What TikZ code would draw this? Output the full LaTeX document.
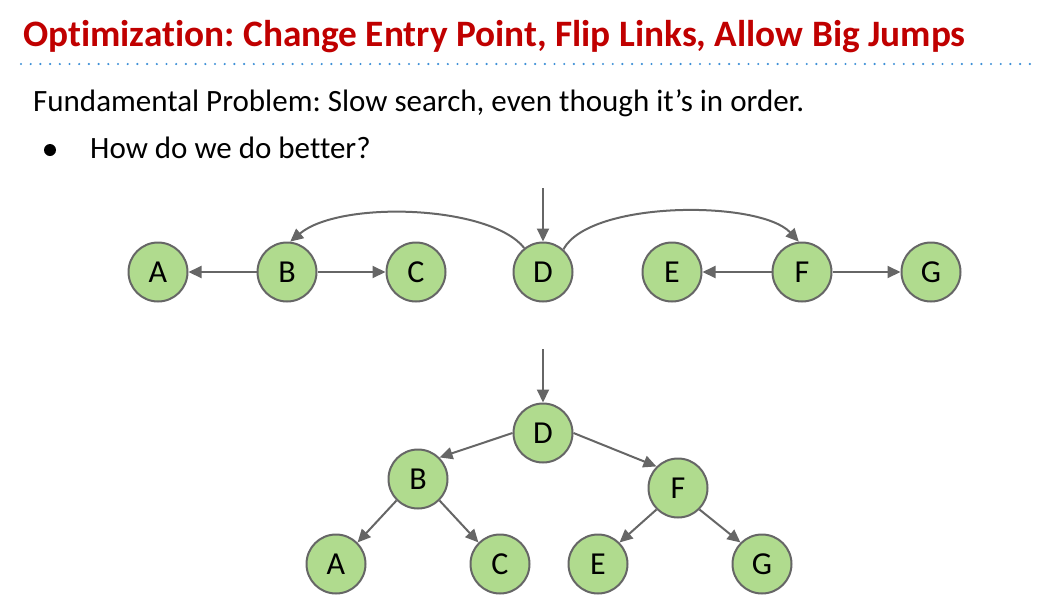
\documentclass[tikz,border=0pt]{standalone}
\usepackage{fontspec}
\setmainfont{Carlito}[Ligatures=NoCommon]
\usetikzlibrary{arrows.meta}
\frenchspacing
\definecolor{titlered}{HTML}{C00000}
\definecolor{dotblue}{HTML}{3D8FD6}
\definecolor{nodegreen}{HTML}{B0DB8E}
\definecolor{edgegray}{HTML}{666666}
\tikzset{
  vnode/.style={circle, draw=edgegray, fill=nodegreen, line width=2pt, minimum size=59pt, inner sep=0pt, font=\fontsize{32}{34}\selectfont},
  link/.style={draw=edgegray, line width=2pt, -{Triangle[length=13pt,width=12pt]}},
}
\begin{document}
\begin{tikzpicture}[x=1pt,y=-1pt]
\useasboundingbox (0,0) rectangle (1042,614);
% title
\node[anchor=base west, inner sep=0pt, text=titlered, font=\fontsize{37.3}{38}\selectfont\bfseries] (title) at (23,46) {Optimization: Change Entry Point, Flip Links, Allow Big Jumps};
\draw[dotblue, line width=2.4pt, line cap=round, dash pattern=on 0pt off 9.7pt] (21,64) -- (1037,64);
\node[anchor=base west, inner sep=0pt, font=\fontsize{31}{33}\selectfont] (prob) at (33,111) {Fundamental Problem: Slow search, even though it’s in order.};
\node[circle, fill=black, inner sep=0pt, minimum size=12pt] (bul) at (50,150) {};
\node[anchor=base west, inner sep=0pt, font=\fontsize{31}{33}\selectfont] (q) at (90,158) {How do we do better?};
% top row
\node[vnode] (A1) at (158,272) {A};
\node[vnode] (B1) at (287,272) {B};
\node[vnode] (C1) at (416,272) {C};
\node[vnode] (D1) at (543,272) {D};
\node[vnode] (E1) at (672,272) {E};
\node[vnode] (F1) at (802,272) {F};
\node[vnode] (G1) at (931,272) {G};
\coordinate (in1) at (543,188);
\draw[link] (in1) -- (D1.north);
\draw[link] (B1.west) -- (A1.east);
\draw[link] (B1.east) -- (C1.west);
\draw[link] (F1.west) -- (E1.east);
\draw[link] (F1.east) -- (G1.west);
\draw[link] (D1.128) .. controls (490,205) and (340,200) .. (B1.84);
\draw[link] (D1.48) .. controls (590,200) and (760,200) .. (F1.96);
% tree
\node[vnode] (D2) at (543,433) {D};
\node[vnode] (B2) at (418,479) {B};
\node[vnode] (F2) at (678,488) {F};
\node[vnode] (A2) at (336,564) {A};
\node[vnode] (C2) at (500,564) {C};
\node[vnode] (E2) at (598,564) {E};
\node[vnode] (G2) at (762,564) {G};
\coordinate (in2) at (543,349);
\draw[link] (in2) -- (D2.north);
\draw[link] (D2.west) -- (B2.45);
\draw[link] (D2.east) -- (F2.135);
\draw[link] (B2.225) -- (A2.45);
\draw[link] (B2.315) -- (C2.135);
\draw[link] (F2.225) -- (E2.45);
\draw[link] (F2.315) -- (G2.135);
\end{tikzpicture}
\end{document}
